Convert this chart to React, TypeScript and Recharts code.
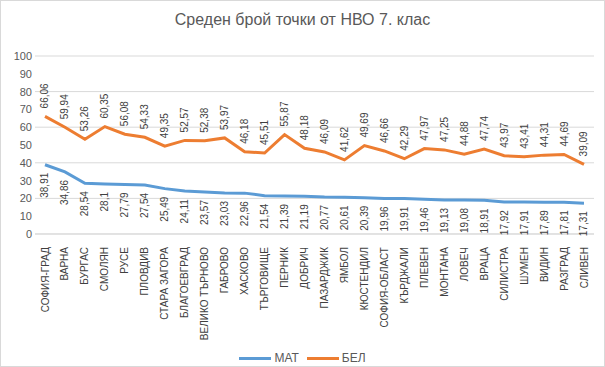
import React from "react";
import {
  LineChart,
  Line,
  XAxis,
  YAxis,
  CartesianGrid,
  LabelList,
} from "recharts";

// Среден брой точки от НВО 7. клас по области, МАТ и БЕЛ
const OBLASTI = [
  "СОФИЯ-ГРАД", "ВАРНА", "БУРГАС", "СМОЛЯН", "РУСЕ", "ПЛОВДИВ", "СТАРА ЗАГОРА",
  "БЛАГОЕВГРАД", "ВЕЛИКО ТЪРНОВО", "ГАБРОВО", "ХАСКОВО", "ТЪРГОВИЩЕ", "ПЕРНИК",
  "ДОБРИЧ", "ПАЗАРДЖИК", "ЯМБОЛ", "КЮСТЕНДИЛ", "СОФИЯ-ОБЛАСТ", "КЪРДЖАЛИ",
  "ПЛЕВЕН", "МОНТАНА", "ЛОВЕЧ", "ВРАЦА", "СИЛИСТРА", "ШУМЕН", "ВИДИН",
  "РАЗГРАД", "СЛИВЕН",
];

const MAT = [
  38.91, 34.86, 28.54, 28.1, 27.79, 27.54, 25.49, 24.11, 23.57, 23.03, 22.96,
  21.54, 21.39, 21.19, 20.77, 20.61, 20.39, 19.96, 19.91, 19.46, 19.13, 19.08,
  18.91, 17.92, 17.91, 17.89, 17.81, 17.31,
];

const BEL = [
  66.06, 59.94, 53.26, 60.35, 56.08, 54.33, 49.35, 52.57, 52.38, 53.97, 46.18,
  45.51, 55.87, 48.18, 46.09, 41.62, 49.69, 46.66, 42.29, 47.97, 47.25, 44.88,
  47.74, 43.97, 43.41, 44.31, 44.69, 39.09,
];

const Y_TICKS = [0, 10, 20, 30, 40, 50, 60, 70, 80, 90, 100];

const SERII = [
  { key: "mat", ime: "МАТ", cvyat: "#5b9bd5" },
  { key: "bel", ime: "БЕЛ", cvyat: "#ed7d31" },
];

const danni = OBLASTI.map((o, i) => ({ oblast: o, mat: MAT[i], bel: BEL[i] }));

const FONT = "'Liberation Sans', Arial, sans-serif";
const TXT = "#404040";

const fmt = (v: number) => String(v).replace(".", ",");

function EtiketPod(props: any) {
  const { x, y, value } = props;
  const yy = y + 8;
  return (
    <text
      x={x}
      y={yy}
      transform={`rotate(-90, ${x}, ${yy})`}
      textAnchor="end"
      dominantBaseline="central"
      fontSize={10}
      fill={TXT}
      fontFamily={FONT}
    >
      {fmt(value)}
    </text>
  );
}

function EtiketNad(props: any) {
  const { x, y, value } = props;
  const yy = y - 8;
  return (
    <text
      x={x}
      y={yy}
      transform={`rotate(-90, ${x}, ${yy})`}
      textAnchor="start"
      dominantBaseline="central"
      fontSize={10}
      fill={TXT}
      fontFamily={FONT}
    >
      {fmt(value)}
    </text>
  );
}

function KategoriaTick(props: any) {
  const { x, y, payload } = props;
  const yy = y + 5;
  return (
    <text
      x={x}
      y={yy}
      transform={`rotate(-90, ${x}, ${yy})`}
      textAnchor="end"
      dominantBaseline="central"
      fontSize={10}
      fill={TXT}
      fontFamily={FONT}
    >
      {payload.value}
    </text>
  );
}

export default function App() {
  return (
    <div
      style={{
        position: "absolute",
        left: 0,
        top: 0,
        width: 605,
        height: 367,
        background: "#fff",
        boxSizing: "border-box",
        border: "1px solid #d9d9d9",
        fontFamily: FONT,
      }}
    >
      <div
        style={{
          position: "absolute",
          top: 10,
          width: "100%",
          textAlign: "center",
          fontSize: 16,
          color: "#595959",
        }}
      >
        Среден брой точки от НВО 7. клас
      </div>
      <LineChart
        width={603}
        height={365}
        data={danni}
        margin={{ top: 55, right: 10, bottom: 0, left: 0 }}
      >
        <CartesianGrid vertical={false} stroke="#d9d9d9" />
        <XAxis
          dataKey="oblast"
          interval={0}
          tickLine={false}
          axisLine={{ stroke: "#d9d9d9" }}
          tick={<KategoriaTick />}
          padding={{ left: 10, right: 10 }}
          height={132}
        />
        <YAxis
          domain={[0, 100]}
          ticks={Y_TICKS}
          axisLine={false}
          tickLine={false}
          width={34}
          tick={{ fontSize: 11, fill: "#595959", fontFamily: FONT, dx: 5 }}
        />
        <Line
          dataKey="mat"
          stroke="#5b9bd5"
          strokeWidth={3}
          dot={false}
          isAnimationActive={false}
        >
          <LabelList dataKey="mat" content={<EtiketPod />} />
        </Line>
        <Line
          dataKey="bel"
          stroke="#ed7d31"
          strokeWidth={3}
          dot={false}
          isAnimationActive={false}
        >
          <LabelList dataKey="bel" content={<EtiketNad />} />
        </Line>
      </LineChart>
      <div
        style={{
          position: "absolute",
          top: 350,
          width: "100%",
          display: "flex",
          justifyContent: "center",
          gap: 8,
          fontSize: 12,
          color: "#595959",
        }}
      >
        {SERII.map((s) => (
          <div key={s.key} style={{ display: "flex", alignItems: "center", gap: 3 }}>
            <div style={{ width: 32, height: 3, background: s.cvyat }} />
            <span>{s.ime}</span>
          </div>
        ))}
      </div>
    </div>
  );
}
